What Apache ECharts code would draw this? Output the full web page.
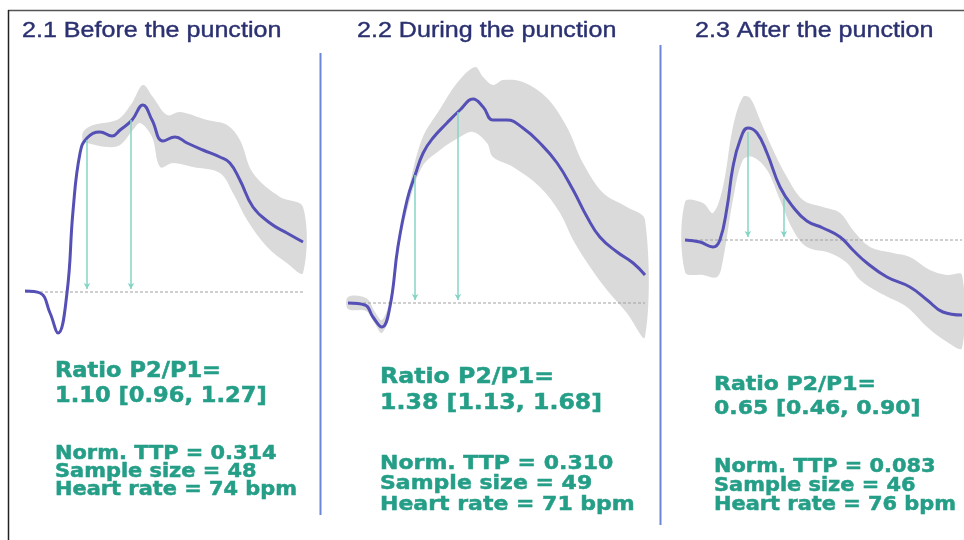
<!DOCTYPE html>
<html>
<head>
<meta charset="utf-8">
<script src="https://cdn.jsdelivr.net/npm/echarts@6/dist/echarts.min.js"></script>
<style>html,body{margin:0;padding:0;background:#fff;}#c{width:964px;height:540px;}</style>
</head>
<body>
<div id="c"></div>
<script>
// ---- Data (time as % of cycle, amplitude in arbitrary units, baseline = 0) ----
const titles = ['2.1 Before the punction', '2.2 During the punction', '2.3 After the punction'];
const ratioLabels = ['1.10 [0.96, 1.27]', '1.38 [1.13, 1.68]', '0.65 [0.46, 0.90]'];
const ttpValues = ['0.314', '0.310', '0.083'];
const sampleSizes = [48, 49, 46];
const heartRates = [74, 71, 76];

const curve1 = [[0,0.01],[5.4,-0.01],[9.0,-0.21],[11.9,-0.41],[15.1,-0.01],[17.3,0.82],[19.8,1.39],[22.3,1.54],[27.0,1.60],[31.3,1.56],[34.2,1.62],[38.5,1.72],[42.4,1.87],[45.7,1.72],[49.6,1.51],[54.0,1.55],[58.3,1.49],[64.0,1.42],[70.1,1.35],[73.7,1.29],[77.3,1.12],[82.0,0.85],[88.1,0.69],[94.2,0.59],[100,0.50]];
const upper1 = [[20.9,1.60],[24.5,1.67],[30.6,1.70],[34.2,1.74],[38.5,1.89],[42.4,2.07],[46.0,1.95],[51.1,1.77],[55.8,1.80],[65.5,1.72],[72.7,1.67],[77.3,1.52],[82.0,1.19],[91.7,0.95],[100,0.85]];
const lower1 = [[20.9,1.50],[22.3,1.49],[29.5,1.45],[34.2,1.47],[38.8,1.62],[41.4,1.69],[45.7,1.55],[48.6,1.25],[53.2,1.29],[60.4,1.25],[70.1,1.19],[74.8,0.99],[79.9,0.72],[87.1,0.45],[94.2,0.29],[100,0.19]];
const peaks1 = [[22.3,1.52],[38.1,1.72]];

const curve2 = [[0,0],[5.7,-0.02],[8.4,-0.14],[11.4,-0.24],[14.1,-0.04],[16.8,0.56],[19.9,1.03],[22.6,1.28],[25.3,1.50],[28.6,1.65],[33.3,1.80],[37.7,1.93],[42.1,2.04],[45.5,1.96],[48.8,1.83],[53.5,1.83],[58.9,1.75],[64.6,1.60],[70.4,1.40],[75.8,1.13],[80.5,0.86],[84.8,0.66],[90.6,0.51],[96.0,0.40],[100,0.28]];
const upper2 = [[0,0.06],[6.1,0.05],[9.1,-0.09],[11.4,-0.17],[14.1,0.03],[16.8,0.60],[20.2,1.10],[24.9,1.64],[31.0,1.94],[36.7,2.20],[42.8,2.36],[45.5,2.26],[48.8,2.18],[52.2,2.23],[58.9,2.21],[67.0,2.05],[73.7,1.76],[79.1,1.40],[85.9,1.10],[93.9,0.96],[100,0.83]];
const lower2 = [[0,-0.06],[6.1,-0.08],[9.1,-0.21],[11.4,-0.30],[14.1,-0.11],[16.8,0.50],[20.2,0.96],[24.9,1.36],[31.0,1.53],[37.7,1.66],[42.1,1.71],[46.8,1.60],[48.8,1.46],[55.6,1.36],[64.6,1.16],[71.4,0.90],[75.8,0.63],[81.5,0.36],[87.2,0.13],[93.9,-0.10],[100,-0.34]];
const peaks2 = [[22.6,1.28],[37.0,1.91]];

const curve3 = [[0,0],[5.4,-0.02],[10.1,-0.07],[12.6,0],[15.2,0.33],[17.3,0.73],[19.9,1.00],[22.7,1.12],[26.0,1.07],[29.6,0.87],[34.3,0.53],[39.0,0.33],[44.0,0.19],[49.8,0.12],[56.0,0.03],[60.6,-0.10],[65.7,-0.23],[72.9,-0.37],[81.2,-0.47],[87.4,-0.60],[93.1,-0.72],[100,-0.75]];
const upper3 = [[0,0.38],[6.5,0.37],[10.1,0.27],[13.7,0.53],[17.3,1.13],[20.9,1.43],[23.5,1.42],[27.1,1.20],[31.8,0.90],[36.8,0.63],[42.6,0.40],[49.8,0.33],[56.0,0.27],[60.6,0.10],[66.8,-0.07],[75.1,-0.13],[81.2,-0.17],[88.4,-0.30],[94.6,-0.35],[100,-0.35]];
const lower3 = [[0,-0.32],[6.5,-0.35],[11.6,-0.37],[13.7,-0.20],[17.3,0.40],[20.9,0.80],[24.5,0.83],[29.6,0.70],[34.3,0.40],[39.0,0.10],[44.0,-0.07],[52.3,-0.13],[58.5,-0.23],[63.2,-0.40],[70.4,-0.53],[80.1,-0.67],[87.4,-0.87],[94.6,-1.02],[100,-1.08]];
const peaks3 = [[22.7,1.08],[35.7,0.42]];

const curves = [curve1, curve2, curve3];
const uppers = [upper1, upper2, upper3];
const lowers = [lower1, lower2, lower3];
const peaks = [peaks1, peaks2, peaks3];

// ---- Layout / styles ----
const grids = [
  {left: 25, width: 278, top: 42, height: 300},
  {left: 348, width: 297, top: 53, height: 300},
  {left: 685, width: 277, top: 40, height: 350}
];
const yRanges = [[-0.5, 2.5], [-0.5, 2.5], [-1.5, 2.0]];
const lineColor = '#5550b5';
const bandColor = '#dadada';
const arrowColor = '#86d4c5';
const teal = '#259e87';
const navy = '#2a3070';

const series = [];
for (let i = 0; i < 3; i++) {
  const up = uppers[i], lo = lowers[i];
  series.push({
    type: 'custom', xAxisIndex: i, yAxisIndex: i, silent: true, z: 1,
    data: [[0, 0]],
    renderItem: function (params, api) {
      const pts = up.map(p => api.coord(p)).concat(lo.slice().reverse().map(p => api.coord(p)));
      return {type: 'polygon', shape: {points: pts, smooth: 0.35}, style: {fill: bandColor}};
    }
  });
  series.push({
    type: 'line', xAxisIndex: i, yAxisIndex: i, z: 2, silent: true,
    data: [[0, 0], [100, 0]], symbol: 'none',
    lineStyle: {color: '#a0a0a0', width: 1, type: [3, 2]},
    markLine: {
      silent: true, symbol: ['none', 'arrow'], symbolSize: [5, 6], label: {show: false},
      lineStyle: {color: arrowColor, width: 1.5, type: 'solid'},
      data: peaks[i].map(p => [{coord: [p[0], p[1]]}, {coord: [p[0], 0.03]}])
    }
  });
  series.push({
    type: 'line', xAxisIndex: i, yAxisIndex: i, z: 3, silent: true,
    data: curves[i], symbol: 'none', smooth: 0.45,
    lineStyle: {color: lineColor, width: 3}
  });
}

// ---- Text / frame graphics ----
const textX = [55, 380, 714];
const ratioY = [[372, 397], [377, 403], [385, 409]];
const infoY = [[454, 472, 490], [464, 484, 505], [467, 486, 505]];
const fontSizes = [19, 20, 19];
const ratioSizes = [20.5, 21.5, 20];
const graphic = [
  {type: 'line', shape: {x1: 8, y1: 10.5, x2: 964, y2: 10.5}, style: {stroke: '#555', lineWidth: 1.5}},
  {type: 'line', shape: {x1: 8.5, y1: 10, x2: 8.5, y2: 540}, style: {stroke: '#222', lineWidth: 1.5}},
  {type: 'line', shape: {x1: 320.5, y1: 53, x2: 320.5, y2: 515}, style: {stroke: '#6c86d6', lineWidth: 2}},
  {type: 'line', shape: {x1: 660.5, y1: 45, x2: 660.5, y2: 525}, style: {stroke: '#6c86d6', lineWidth: 2}}
];
const titleX = [22, 357, 695];
for (let i = 0; i < 3; i++) {
  graphic.push({type: 'text', x: titleX[i], y: 31, scaleX: 1.14,
    style: {text: titles[i], fill: navy, font: '22px "Liberation Sans", Arial, sans-serif', verticalAlign: 'middle',
      stroke: navy, lineWidth: 0.4}});
  const f = 'bold ' + fontSizes[i] + 'px "DejaVu Sans", Verdana, sans-serif';
  const fr = 'bold ' + ratioSizes[i] + 'px "DejaVu Sans", Verdana, sans-serif';
  const lines = [
    ['Ratio P2/P1=', ratioY[i][0], fr],
    [ratioLabels[i], ratioY[i][1], fr],
    ['Norm. TTP = ' + ttpValues[i], infoY[i][0], f],
    ['Sample size = ' + sampleSizes[i], infoY[i][1], f],
    ['Heart rate = ' + heartRates[i] + ' bpm', infoY[i][2], f]
  ];
  lines.forEach(l => graphic.push({type: 'text', x: textX[i], y: l[1], scaleX: 1.1,
    style: {text: l[0], fill: teal, font: l[2], verticalAlign: 'middle', stroke: teal, lineWidth: 0.5}}));
}

const chart = echarts.init(document.getElementById('c'), null, {renderer: 'canvas'});
chart.setOption({
  animation: false,
  backgroundColor: '#fff',
  grid: grids,
  xAxis: grids.map((g, i) => ({type: 'value', gridIndex: i, min: 0, max: 100, show: false})),
  yAxis: grids.map((g, i) => ({type: 'value', gridIndex: i, min: yRanges[i][0], max: yRanges[i][1], show: false})),
  series: series,
  graphic: graphic
});
</script>
</body>
</html>
